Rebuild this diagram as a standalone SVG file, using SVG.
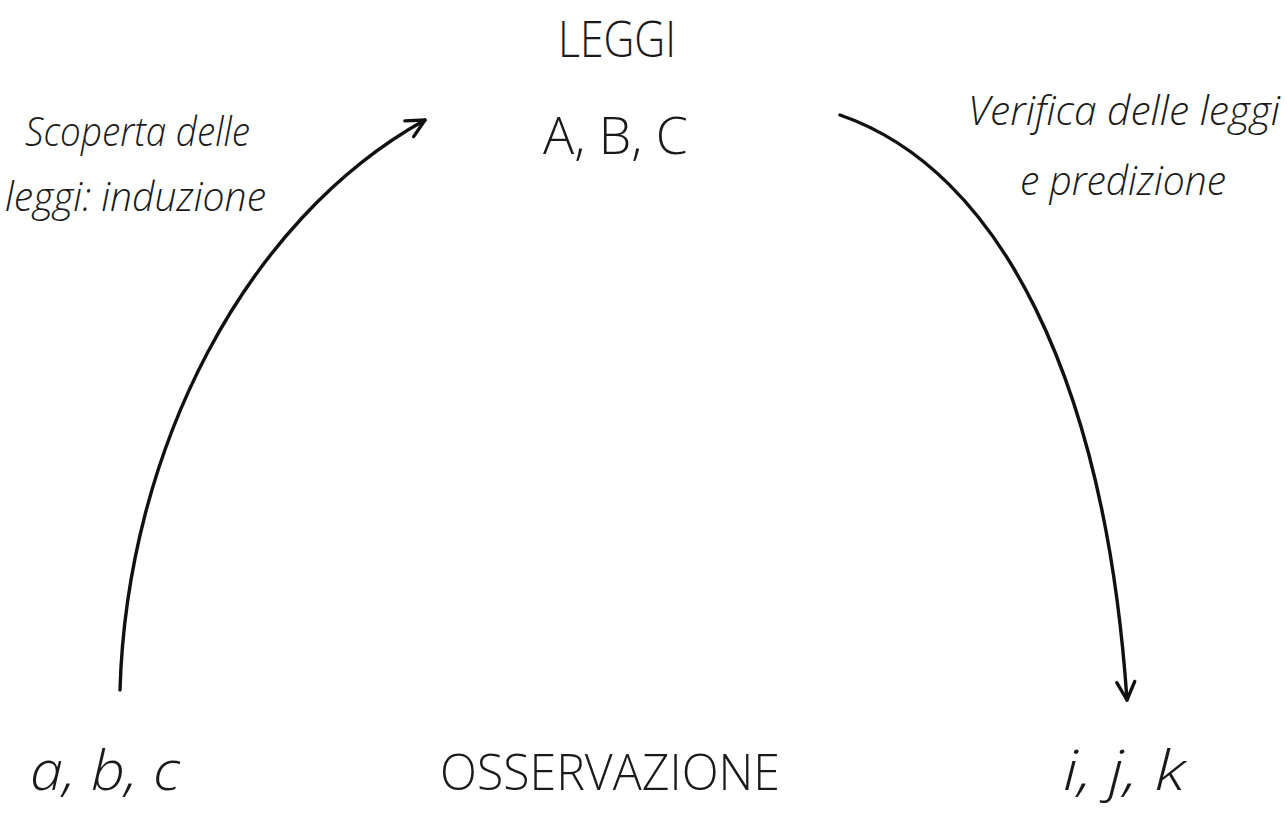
<svg xmlns="http://www.w3.org/2000/svg" width="1287" height="816" viewBox="0 0 1287 816">
<style>
.t{font-family:"Open Sans","Liberation Sans",sans-serif;font-weight:300;fill:#1a1a1a}
.i{font-style:italic}
.c{fill:none;stroke:#111;stroke-width:3.4;stroke-linecap:round}
</style>
<defs>
<marker id="ah" markerWidth="30" markerHeight="30" refX="20" refY="10" orient="auto" markerUnits="userSpaceOnUse" viewBox="0 0 30 20">
<path d="M2,1 L20,10 L2,19" fill="none" stroke="#111" stroke-width="3.4" stroke-linecap="round" stroke-linejoin="round"/>
</marker>
</defs>
<rect width="1287" height="816" fill="#fff"/>
<g id="connectors">
<path class="c" d="M120,690 C127,450 245,220 425,120" marker-end="url(#ah)"/>
<path class="c" d="M840,115 C1000,170 1105,380 1127,700" marker-end="url(#ah)"/>
</g>
<g id="leggi"><text class="t" x="558" y="57" font-size="50" textLength="118" lengthAdjust="spacingAndGlyphs">LEGGI</text></g>
<g id="abc-upper"><text class="t" x="543" y="154" font-size="52" textLength="145" lengthAdjust="spacingAndGlyphs">A, B, C</text></g>
<g id="label-left">
<text class="t i" x="25" y="146" font-size="41" textLength="225" lengthAdjust="spacingAndGlyphs">Scoperta delle</text>
<text class="t i" x="5" y="211" font-size="41" textLength="261" lengthAdjust="spacingAndGlyphs">leggi: induzione</text>
</g>
<g id="label-right">
<text class="t i" x="968" y="125" font-size="41" textLength="312" lengthAdjust="spacingAndGlyphs">Verifica delle leggi</text>
<text class="t i" x="1020" y="195" font-size="41" textLength="206" lengthAdjust="spacingAndGlyphs">e predizione</text>
</g>
<g id="abc-lower"><text class="t i" x="30" y="790" font-size="56" textLength="150" lengthAdjust="spacingAndGlyphs">a, b, c</text></g>
<g id="osservazione"><text class="t" x="440" y="790" font-size="50" textLength="340" lengthAdjust="spacingAndGlyphs">OSSERVAZIONE</text></g>
<g id="ijk"><text class="t i" x="1063" y="790" font-size="56" textLength="122" lengthAdjust="spacingAndGlyphs">i, j, k</text></g>
</svg>
